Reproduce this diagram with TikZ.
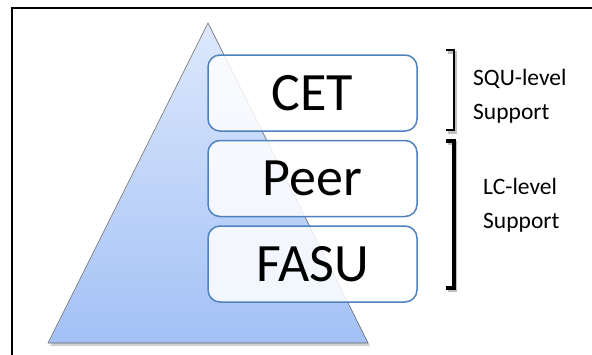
\documentclass[tikz,border=0pt]{standalone}
\usepackage{fontspec}
\setmainfont{Carlito}
\begin{document}
\begin{tikzpicture}[x=1pt,y=-1pt,
  levelbox/.style={draw=boxline, line width=1.5pt, rounded corners=12pt,
    fill=white, fill opacity=0.85, text opacity=1, minimum width=209pt, minimum height=76pt,
    inner sep=0pt, font=\fontsize{54}{58}\selectfont},
  grp/.style={line width=2.6pt, line cap=butt},
  grplabel/.style={align=left, anchor=west, font=\fontsize{23.5}{34}\selectfont, inner sep=0pt}]
  \useasboundingbox (0,0) rectangle (592,354);
  \definecolor{pyrtop}{HTML}{DDE8FC}
  \definecolor{pyrbot}{HTML}{A3C1F6}
  \definecolor{boxline}{HTML}{4F81BD}
  % frame
  \draw[line width=2pt] (12,360) -- (12,8) -- (600,8);
  % pyramid with soft shadow
  \fill[black, opacity=0.18] (210,26) -- (370,346) -- (50,346) -- cycle;
  \shade[top color=pyrtop, bottom color=pyrbot, draw=gray!80!black, line width=0.6pt]
    (208,23) -- (368,343) -- (48,343) -- cycle;
  % levels
  \node[levelbox] (cet)  at (312.5,93)  {CET};
  \node[levelbox] (peer) at (312.5,178.5) {Peer};
  \node[levelbox] (fasu) at (312.5,264) {FASU};
  % brackets
  \coordinate (b1t) at (446,50);
  \coordinate (b1b) at (446,130);
  \coordinate (b2t) at (446,141);
  \coordinate (b2b) at (446,288);
  \draw[black!25, grp, line width=3pt] ([xshift=1.5pt,yshift=-2pt]b1t) -- ++(8,0) |- ([xshift=1.5pt,yshift=-2pt]b1b);
  \draw[black!25, grp, line width=3.5pt] ([xshift=1.5pt,yshift=-2pt]b2t) -- ++(8,0) |- ([xshift=1.5pt,yshift=-2pt]b2b);
  \draw[grp] (b1t) -- ++(8,0) |- (b1b);
  \draw[grp, line width=3.4pt] (b2t) -- ++(8,0) |- (b2b);
  \node[grplabel] (squ) at (473,96) {SQU-level\\Support};
  \node[grplabel] (lc) at (483,205) {LC-level\\Support};
\end{tikzpicture}
\end{document}
